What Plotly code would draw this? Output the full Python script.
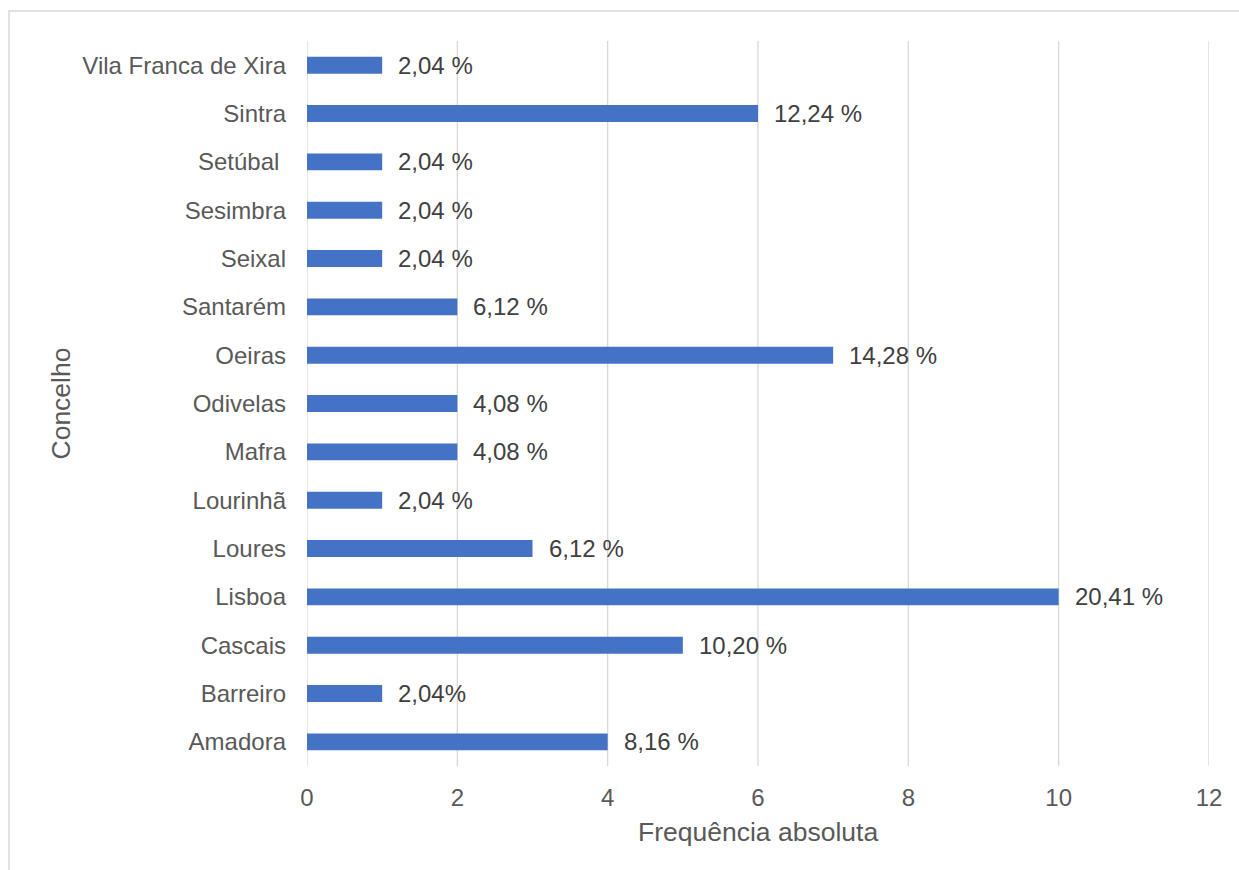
import plotly.graph_objects as go

# Concelhos (bottom to top) and absolute frequencies
concelhos = ["Amadora", "Barreiro", "Cascais", "Lisboa", "Loures", "Lourinhã",
             "Mafra", "Odivelas", "Oeiras", "Santarém", "Seixal", "Sesimbra",
             "Setúbal\u00a0", "Sintra", "Vila Franca de Xira"]
frequencia = [4, 1, 5, 10, 3, 1, 2, 2, 7, 2, 1, 1, 1, 6, 1]
percentagens = ["8,16 %", "2,04%", "10,20 %", "20,41 %", "6,12 %", "2,04 %",
                "4,08 %", "4,08 %", "14,28 %", "6,12 %", "2,04 %", "2,04 %",
                "2,04 %", "12,24 %", "2,04 %"]
x_ticks = [0, 2, 4, 6, 8, 10, 12]

W, H = 1239, 870
ML, MR, MT, MB = 307, 30, 41, 104
PW, PH = W - ML - MR, H - MT - MB

TICK = "#595959"
GRID = "#d9d9d9"
FONT = "Arial"

fig = go.Figure(go.Bar(
    x=frequencia, y=concelhos, orientation="h",
    marker=dict(color="#4472C4", line=dict(width=0)),
    width=0.35, hoverinfo="skip",
))

# vertical gridlines at every tick, including both range edges
for t in x_ticks:
    fig.add_shape(type="line", xref="x", yref="paper", x0=t, x1=t, y0=0, y1=1,
                  line=dict(color=GRID, width=1.3), layer="below")

# value labels to the right of each bar
for c, v, t in zip(concelhos, frequencia, percentagens):
    fig.add_annotation(x=v, y=c, text=t, showarrow=False, xanchor="left",
                       xshift=14, font=dict(size=24, color="#404040", family=FONT))

# axis titles
fig.add_annotation(xref="paper", yref="paper", x=0.5, y=(H - 832 - MB) / PH,
                   text="Frequência absoluta", showarrow=False, yanchor="middle",
                   font=dict(size=26.5, color=TICK, family=FONT))
fig.add_annotation(xref="paper", yref="paper", x=(60 - ML) / PW, y=0.5,
                   text="Concelho", showarrow=False, textangle=-90,
                   xanchor="center", yanchor="middle",
                   font=dict(size=26.5, color=TICK, family=FONT))

# outer chart border
fig.add_shape(type="rect", xref="paper", yref="paper",
              x0=(9 - ML) / PW, x1=(W + 20 - ML) / PW,
              y0=(H - (H + 20) - MB) / PH, y1=(H - 11 - MB) / PH,
              line=dict(color=GRID, width=1.5), layer="below")

fig.update_layout(
    width=W, height=H,
    margin=dict(l=ML, r=MR, t=MT, b=MB, autoexpand=False),
    plot_bgcolor="white", paper_bgcolor="white",
    showlegend=False,
    font=dict(family=FONT, color=TICK, size=24),
    xaxis=dict(range=[0, 12], tickvals=x_ticks, showgrid=False,
               zeroline=False, showline=False,
               ticklabelstandoff=15, tickfont=dict(size=24, color=TICK),
               fixedrange=True),
    yaxis=dict(showgrid=False, zeroline=False, showline=False,
               ticklabelstandoff=20, tickfont=dict(size=24, color=TICK),
               range=[-0.5, len(concelhos) - 0.5], fixedrange=True),
    bargap=0.65,
)

fig.write_html("out.html")
